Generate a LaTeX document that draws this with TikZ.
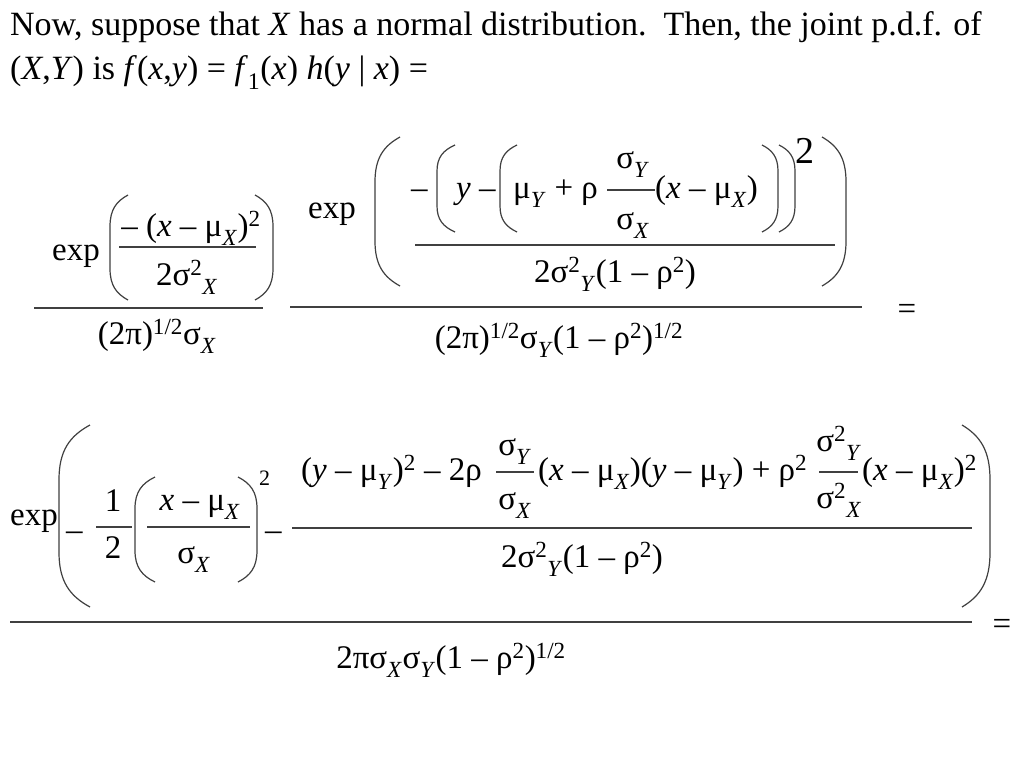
\documentclass[tikz,border=0pt]{standalone}
\usepackage{fontspec}
\setmainfont{Liberation Serif}
\newcommand{\dn}[1]{\raisebox{-0.1em}{\textsubscript{\textit{#1}}}}
\newcommand{\up}[1]{\textsuperscript{#1}}
% big bracket: outer x, tip x, top y, bottom y
\newcommand{\brk}[4]{\draw[paren] (#2,#3) .. controls ({#1+0.35*(#2-#1)},{#3+0.06*(#4-#3)}) and (#1,{#3+0.14*(#4-#3)}) .. (#1,{#3+0.3*(#4-#3)})
  -- (#1,{#4-0.3*(#4-#3)}) .. controls (#1,{#4-0.14*(#4-#3)}) and ({#1+0.35*(#2-#1)},{#4-0.06*(#4-#3)}) .. (#2,#4);}
\tikzset{
  txt/.style={font=\fontsize{34}{40}\selectfont, inner sep=0pt, anchor=base west},
  eq/.style={font=\fontsize{33}{36}\selectfont, inner sep=0pt, anchor=base},
  bar/.style={line width=1.3pt, black!75},
  paren/.style={line width=1.2pt, black!75},
}
\begin{document}
\begin{tikzpicture}[x=1pt, y=-1pt]
        \fill[white] (0,0) rectangle (1024,768);
        \useasboundingbox (0,0) rectangle (1024,768);

        \node[txt] (lineA) at (10,36) {Now, suppose that \textit{X} has a normal distribution.\ \ Then, the joint p.d.f. of};
        \node[txt] (lineB) at (10,79) {(\textit{X},\textit{Y}) is \textit{f}(\textit{x},\textit{y}) = \textit{f}\raisebox{-0.1em}{\textsubscript{1}}(\textit{x}) \textit{h}(\textit{y} | \textit{x}) =};

        % f_1(x)
        \node[eq, anchor=base west] (expA) at (52,260) {exp};
        \node[eq] (numA) at (191,236) {– (\textit{x} – μ\dn{X})\up{2}};
        \node[eq] (denA) at (187,285) {2σ\up{2}\dn{X}};
        \draw[bar] (119,247) -- (256,247);
        \brk{110}{128}{195}{300}
        \brk{273}{255}{195}{300}
        \draw[bar] (34,308) -- (263,308);
        \node[eq] (denB) at (157,344) {(2π)\up{1/2}σ\dn{X}};

        % h(y|x)
        \node[eq, anchor=base west] (expB) at (308,218) {exp};
        \brk{375}{400}{137}{286}
        \brk{846}{822}{137}{286}
        \node[eq, anchor=base west] (negB) at (411,198) {–};
        \brk{437}{455}{145}{232}
        \node[eq, anchor=base west] (yB) at (456,198) {\textit{y} –};
        \brk{500}{517}{145}{232}
        \node[eq, anchor=base west] (muB) at (513,198) {μ\dn{Y} + ρ};
        \node[eq] (sYB) at (633,168) {σ\dn{Y}};
        \node[eq] (sXB) at (633,229) {σ\dn{X}};
        \draw[bar] (607,190) -- (655,190);
        \node[eq, anchor=base west] (xB) at (655,198) {(\textit{x} – μ\dn{X})};
        \brk{778}{762}{145}{232}
        \brk{795}{779}{145}{232}
        \node[eq, anchor=base west, font=\fontsize{38}{40}\selectfont] (sqB) at (795,163) {2};
        \draw[bar] (415,245) -- (835,245);
        \node[eq] (denC) at (615,282) {2σ\up{2}\dn{Y}(1 – ρ\up{2})};
        \draw[bar] (290,307) -- (862,307);
        \node[eq] (denD) at (559,348) {(2π)\up{1/2}σ\dn{Y}(1 – ρ\up{2})\up{1/2}};
        \node[eq, anchor=center] (eqA) at (907,312) {=};

        % joint p.d.f.
        \node[eq, anchor=base west] (expC) at (10,525) {exp};
        \brk{59}{90}{425}{607}
        \brk{990}{962}{425}{607}
        \node[eq, anchor=base west] (negC) at (66,540) {–};
        \node[eq] (oneC) at (113,511) {1};
        \node[eq] (twoC) at (113,558) {2};
        \draw[bar] (96,527) -- (132,527);
        \brk{135}{155}{477}{582}
        \node[eq] (xC) at (200,510) {\textit{x} – μ\dn{X}};
        \node[eq] (sXC) at (194,563) {σ\dn{X}};
        \draw[bar] (147,527) -- (250,527);
        \brk{257}{238}{477}{582}
        \node[eq, anchor=base west, font=\fontsize{22}{24}\selectfont] (sqC) at (259,485) {2};
        \node[eq, anchor=base west] (negD) at (265,540) {–};
        \node[eq, anchor=base west] (numC) at (301,480) {(\textit{y} – μ\dn{Y})\up{2} – 2ρ};
        \node[eq] (sYC) at (515,455) {σ\dn{Y}};
        \node[eq] (sXD) at (515,509) {σ\dn{X}};
        \draw[bar] (496,472) -- (534,472);
        \node[eq, anchor=base west] (numD) at (538,480) {(\textit{x} – μ\dn{X})(\textit{y} – μ\dn{Y}) + ρ\up{2}};
        \node[eq] (sYD) at (839,451) {σ\up{2}\dn{Y}};
        \node[eq] (sXE) at (839,508) {σ\up{2}\dn{X}};
        \draw[bar] (819,472) -- (858,472);
        \node[eq, anchor=base west] (numE) at (862,480) {(\textit{x} – μ\dn{X})\up{2}};
        \draw[bar] (292,528) -- (972,528);
        \node[eq] (denE) at (582,567) {2σ\up{2}\dn{Y}(1 – ρ\up{2})};
        \draw[bar] (10,622) -- (972,622);
        \node[eq, anchor=center] (eqB) at (1002,627) {=};
        \node[eq] (denF) at (451,668) {2πσ\dn{X}σ\dn{Y}(1 – ρ\up{2})\up{1/2}};
\end{tikzpicture}
\end{document}
